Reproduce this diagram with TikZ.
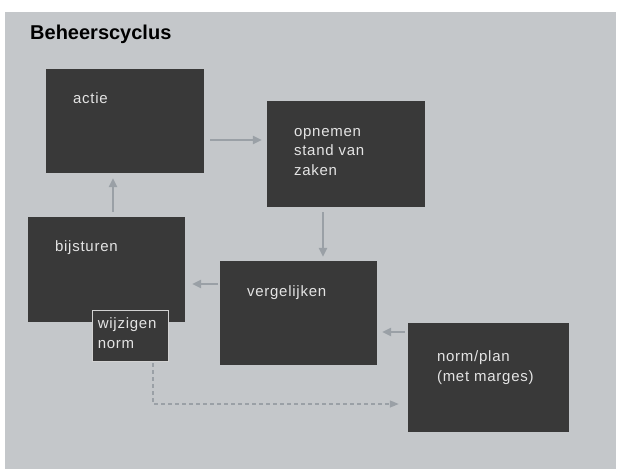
\documentclass[tikz,border=0pt]{standalone}
\usepackage{fontspec}
\setmainfont{Liberation Sans}
\newfontfamily\boxfont[LetterSpace=5]{Liberation Sans}
\usetikzlibrary{arrows.meta,positioning,calc}
\definecolor{bgGray}{HTML}{C4C7CA}
\definecolor{boxGray}{HTML}{393939}
\definecolor{txtGray}{HTML}{E4E4E4}
\definecolor{arGray}{HTML}{9AA0A6}

\begin{document}
\begin{tikzpicture}[x=1pt, y=-1pt,
  every node/.style={font=\fontsize{15}{19.5}\selectfont},
  box/.style={fill=boxGray, inner sep=0pt},
  txt/.style={text=txtGray, inner sep=0pt, anchor=north west, align=left,
              font=\boxfont\fontsize{15}{19.5}\selectfont},
  ar/.style={-{Triangle[length=9pt,width=8pt]}, line width=2.5pt, draw=arGray},
  dar/.style={-{Triangle[length=9pt,width=7pt]}, line width=1.3pt, draw=arGray,
              dash pattern=on 4pt off 3pt}]
  \useasboundingbox (0,0) rectangle (620,472);
  \fill[bgGray] (5,12) rectangle (616,469);
  \node[font=\fontsize{20}{24}\selectfont\bfseries, anchor=base west, inner sep=0pt]
    (title) at (30,39) {Beheerscyclus};
  \node[box, minimum width=158pt, minimum height=104pt,
        label={[txt, xshift=27pt, yshift=-24pt]north west:actie}] (actie) at (125,121) {};
  \node[box, minimum width=158pt, minimum height=106pt,
        label={[txt, xshift=27pt, yshift=-27pt]north west:{opnemen\\stand van\\zaken}}]
    (opnemen) at (346,154) {};
  \node[box, minimum width=157pt, minimum height=105pt,
        label={[txt, xshift=27pt, yshift=-24pt]north west:bijsturen}] (bijsturen) at (106.5,269.5) {};
  \node[box, draw=gray!35!white, line width=0.8pt, minimum width=76pt, minimum height=51pt,
        label={[txt, xshift=6pt, yshift=-8pt]north west:{wijzigen\\norm}}] (wijzigen) at (130,335.5) {};
  \node[box, minimum width=157pt, minimum height=104pt,
        label={[txt, xshift=27pt, yshift=-25pt]north west:vergelijken}] (vergelijken) at (298.5,313) {};
  \node[box, minimum width=161pt, minimum height=109pt,
        label={[txt, xshift=29pt, yshift=-28pt]north west:{norm/plan\\(met marges)}}] (norm) at (488.5,377.5) {};
  \draw[ar, shorten <=6pt, shorten >=5pt] (actie.east |- 0,140) -- (opnemen.west |- 0,140);
  \draw[ar, shorten <=5pt, shorten >=4pt] (opnemen.south -| 323,0) -- (vergelijken.north -| 323,0);
  \draw[ar, shorten <=2pt, shorten >=7pt] (vergelijken.west |- 0,284) -- (bijsturen.east |- 0,284);
  \draw[ar, shorten <=5pt, shorten >=5pt] (bijsturen.north -| 113,0) -- (actie.south -| 113,0);
  \draw[ar, shorten <=3pt, shorten >=5pt] (norm.west |- 0,332) -- (vergelijken.east |- 0,332);
  \draw[dar, shorten <=2pt, shorten >=9pt] (wijzigen.south -| 153,0) |- (norm.west |- 0,404);
\end{tikzpicture}
\end{document}
